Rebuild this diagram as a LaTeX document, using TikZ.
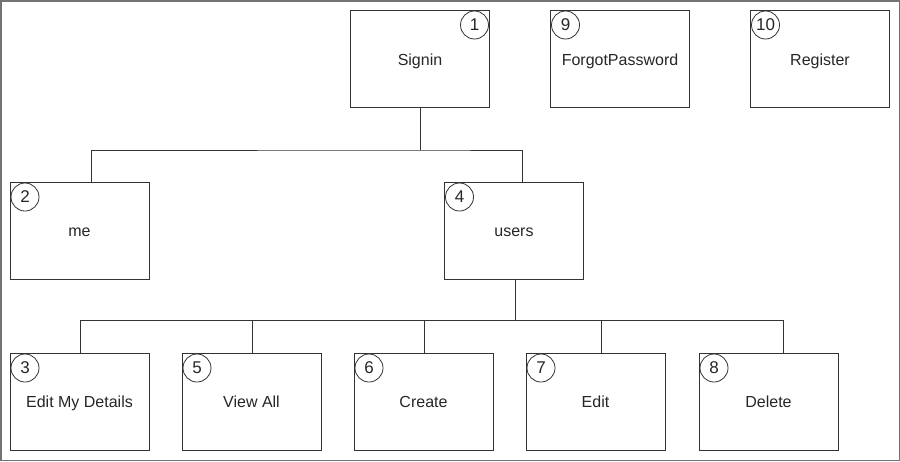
\documentclass[tikz,border=0pt]{standalone}
\usepackage{fontspec}
\setmainfont{Liberation Sans}
\begin{document}
\begin{tikzpicture}[x=1pt,y=-1pt,
  box/.style={draw=black!80, line width=0.9pt, rectangle, minimum width=139pt, minimum height=97pt, inner sep=0pt, outer sep=0pt, font=\fontsize{16}{19}\selectfont, text=black!85, text height=14pt, text depth=2pt},
  topbox/.style={box, text height=15.5pt, text depth=1.5pt},
  numc/.style={draw=black!80, line width=0.8pt, circle, minimum size=28pt, inner sep=0pt, font=\fontsize{17}{19}\selectfont, text=black!85},
  conn/.style={draw=black!80, line width=0.9pt}]
\useasboundingbox (0,0) rectangle (900,461);
\draw[black!55, line width=1.5pt] (0.75,0.75) rectangle (899.25,460.25);

\node[topbox] (signin) at (420,58.5) {Signin};
\node[topbox] (forgot) at (620,58.5) {ForgotPassword};
\node[topbox] (register) at (820,58.5) {Register};
\node[box] (me) at (79.5,230.5) {me};
\node[box] (users) at (514,230.5) {users};
\node[box] (edm) at (79.5,401.5) {Edit My Details};
\node[box] (viewall) at (251.5,401.5) {View All};
\node[box] (create) at (423.5,401.5) {Create};
\node[box] (edit) at (595.5,401.5) {Edit};
\node[box] (delete) at (768.5,401.5) {Delete};

\node[numc] (c1) at ([xshift=-15pt,yshift=-15pt]signin.north east) {1};
\node[numc] (c9) at ([xshift=15pt,yshift=-15pt]forgot.north west) {9};
\node[numc] (c10) at ([xshift=15pt,yshift=-15pt]register.north west) {10};
\node[numc] (c2) at ([xshift=15pt,yshift=-15pt]me.north west) {2};
\node[numc] (c4) at ([xshift=15pt,yshift=-15pt]users.north west) {4};
\node[numc] (c3) at ([xshift=15pt,yshift=-15pt]edm.north west) {3};
\node[numc] (c5) at ([xshift=15pt,yshift=-15pt]viewall.north west) {5};
\node[numc] (c6) at ([xshift=15pt,yshift=-15pt]create.north west) {6};
\node[numc] (c7) at ([xshift=15pt,yshift=-15pt]edit.north west) {7};
\node[numc] (c8) at ([xshift=15pt,yshift=-15pt]delete.north west) {8};

\draw[conn] (signin.south) -- ++(0,43) coordinate (sj);
\draw[conn] ([xshift=11.5pt]me.north) |- (sj) -| ([xshift=8pt]users.north);

\draw[conn] ([xshift=1.5pt]users.south) -- ++(0,41.5) coordinate (uj);
\draw[conn] ([xshift=0.5pt]edm.north) |- (uj) -| ([xshift=15pt]delete.north);
\draw[conn] ([xshift=0.5pt]viewall.north) |- (uj);
\draw[conn] ([xshift=0.5pt]create.north) |- (uj);
\draw[conn] ([xshift=5.5pt]edit.north) |- (uj);
\end{tikzpicture}
\end{document}
